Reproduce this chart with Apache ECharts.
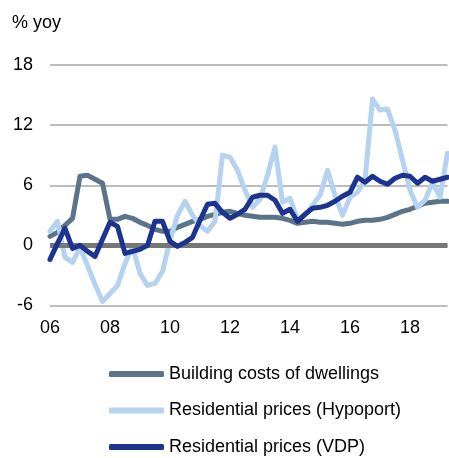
<!DOCTYPE html>
<html>
<head>
<meta charset="utf-8">
<script src="https://cdn.jsdelivr.net/npm/echarts@6/dist/echarts.min.js"></script>
<style>
html,body{margin:0;padding:0;background:#fff;}
#c{width:449px;height:458px;}
</style>
</head>
<body>
<div id="c"></div>
<script>
// Quarterly, 2006Q1 .. 2019Q2
const years = [2006,2007,2008,2009,2010,2011,2012,2013,2014,2015,2016,2017,2018,2019];
const categories = [];
years.forEach(y => { for (let q = 1; q <= 4; q++) { if (y === 2019 && q > 2) break; categories.push(y + 'Q' + q); } });

const yTicks = [-6, 0, 6, 12, 18];

const buildingCosts = [0.9,1.3,2.0,2.7, 6.9,7.0,6.6,6.2, 2.6,2.6,2.9,2.7, 2.3,2.0,1.6,1.4,
  1.4,1.8,2.1,2.4, 2.6,2.9,3.1,3.3, 3.4,3.2,3.0,2.9, 2.8,2.8,2.8,2.7, 2.5,2.2,2.3,2.4,
  2.3,2.3,2.2,2.1, 2.2,2.4,2.5,2.5, 2.6,2.8,3.1,3.4, 3.6,3.9,4.2,4.3, 4.4,4.4];

const hypoport = [1.4,2.4,-1.2,-1.7, -0.2,-2.0,-3.9,-5.6, -4.8,-4.0,-1.8,-0.1, -2.8,-4.0,-3.8,-2.6,
  0.5,3.0,4.4,3.0, 2.0,1.4,2.4,9.0, 8.8,7.5,5.5,3.8, 4.6,7.0,9.8,4.3, 4.7,2.6,3.0,4.0,
  5.0,7.5,5.0,3.0, 4.8,5.3,6.5,14.6, 13.5,13.6,11.5,8.5, 5.5,3.8,4.5,6.3, 4.8,9.2];

const vdp = [-1.4,0.2,1.7,-0.3, 0.0,-0.6,-1.1,0.6, 2.3,1.9,-0.8,-0.6, -0.4,0.0,2.4,2.4,
  0.4,-0.1,0.3,0.8, 2.5,4.1,4.2,3.3, 2.7,3.1,3.6,4.8, 5.0,5.0,4.5,3.2, 3.6,2.4,3.1,3.7,
  3.8,4.0,4.4,4.9, 5.3,6.8,6.3,6.9, 6.4,6.1,6.7,7.0, 6.9,6.2,6.8,6.4, 6.6,6.8];

const seriesNames = ['Building costs of dwellings', 'Residential prices (Hypoport)', 'Residential prices (VDP)'];
const colors = ['#5b7489', '#b5d3f0', '#1c3390'];

const FONT = '"Liberation Sans", Arial, sans-serif';
const chart = echarts.init(document.getElementById('c'), null, {renderer: 'canvas'});

function lineSeries(name, data, color, z) {
  return {
    name: name, type: 'line', data: data, showSymbol: false, symbol: 'none',
    smooth: false, z: z, animation: false,
    lineStyle: {color: color, width: 5, join: 'round', cap: 'round'},
    itemStyle: {color: color}
  };
}

const s0 = lineSeries(seriesNames[0], buildingCosts, colors[0], 3);
s0.markLine = {
  silent: true, symbol: ['none','none'], label: {show: false}, animation: false,
  lineStyle: {color: '#777777', width: 5, type: 'solid'},
  data: [{yAxis: 0}]
};

const legendTops = [359, 395.5, 432];
const legends = seriesNames.map((n, i) => ({
  orient: 'horizontal', left: 104, top: legendTops[i],
  itemWidth: 55, itemHeight: 6, icon: 'roundRect', selectedMode: false,
  data: [n],
  textStyle: {fontSize: 18, color: '#000', fontFamily: FONT, lineHeight: 20}
}));

chart.setOption({
  animation: false,
  textStyle: {fontFamily: FONT},
  title: {
    text: '% yoy', left: 7, top: 9,
    textStyle: {fontSize: 18, fontWeight: 'normal', color: '#000', fontFamily: FONT}
  },
  grid: {left: 50, right: 1.5, top: 65, bottom: 152.5, containLabel: false},
  xAxis: {
    type: 'category', data: categories, boundaryGap: false,
    axisLine: {show: false}, axisTick: {show: false}, splitLine: {show: false},
    axisLabel: {
      interval: function (i) { return i % 8 === 0; },
      formatter: function (v) { return v.slice(2, 4); },
      fontSize: 18, color: '#000', margin: 14, fontFamily: FONT
    }
  },
  yAxis: {
    type: 'value', min: yTicks[0], max: yTicks[yTicks.length - 1], interval: 6,
    axisLine: {show: false}, axisTick: {show: false},
    axisLabel: {fontSize: 18, color: '#000', margin: 17, fontFamily: FONT},
    splitLine: {lineStyle: {color: '#a6a6a6', width: 1.5}}
  },
  legend: legends,
  series: [
    s0,
    lineSeries(seriesNames[1], hypoport, colors[1], 4),
    lineSeries(seriesNames[2], vdp, colors[2], 5)
  ]
});
</script>
</body>
</html>
